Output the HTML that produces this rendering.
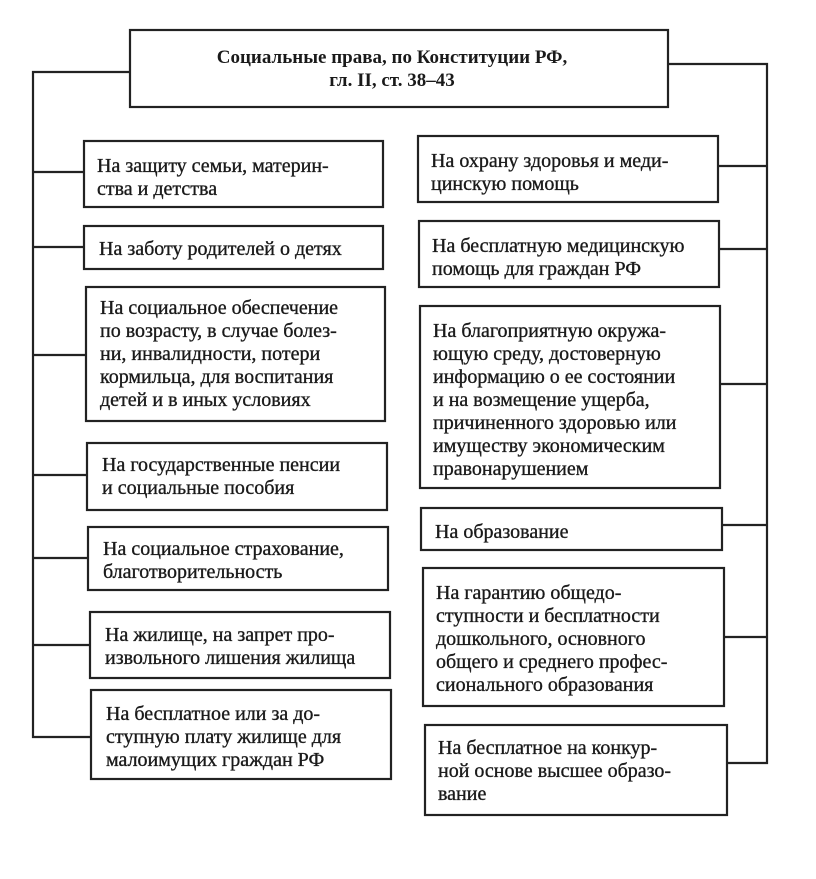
<!DOCTYPE html>
<html><head><meta charset="utf-8"><style>
html,body{margin:0;padding:0;background:#fff;}
svg{display:block;}
text{font-family:"Liberation Serif",serif;font-size:20px;fill:#1a1a1a;stroke:#1a1a1a;stroke-width:0.35;}
.t{font-weight:bold;font-size:19px;stroke-width:0;}
</style></head><body>
<svg width="816" height="879" viewBox="0 0 816 879" xmlns="http://www.w3.org/2000/svg">
<g fill="none" stroke="#222" stroke-width="2.2">
<rect x="130" y="30" width="538" height="77"/>
<polyline points="130,72 33,72 33,737 90,737"/>
<line x1="33" y1="172" x2="84" y2="172"/>
<line x1="33" y1="247" x2="84" y2="247"/>
<line x1="33" y1="355" x2="86" y2="355"/>
<line x1="33" y1="475" x2="87" y2="475"/>
<line x1="33" y1="558" x2="88" y2="558"/>
<line x1="33" y1="645" x2="90" y2="645"/>
<polyline points="668,64 767,64 767,763 727,763"/>
<line x1="718" y1="166" x2="767" y2="166"/>
<line x1="719" y1="249" x2="767" y2="249"/>
<line x1="720" y1="384" x2="767" y2="384"/>
<line x1="721" y1="525" x2="767" y2="525"/>
<line x1="723" y1="637" x2="767" y2="637"/>
<rect x="84" y="141" width="299" height="66"/>
<rect x="84" y="226" width="299" height="43"/>
<rect x="86" y="287" width="299" height="134"/>
<rect x="87" y="443" width="300" height="67"/>
<rect x="88" y="527" width="300" height="63"/>
<rect x="90" y="612" width="300" height="66"/>
<rect x="91" y="690" width="300" height="89"/>
<rect x="418" y="136" width="300" height="66"/>
<rect x="419" y="221" width="300" height="66"/>
<rect x="420" y="306" width="300" height="182"/>
<rect x="421" y="508" width="301" height="42"/>
<rect x="423" y="568" width="301" height="138"/>
<rect x="425" y="725" width="302" height="90"/>
</g>
<text class="t" x="392" y="63" text-anchor="middle">Социальные права, по Конституции РФ,</text>
<text class="t" x="392" y="86" text-anchor="middle">гл. II, ст. 38–43</text>

<text x="97" y="172">На защиту семьи, материн-</text>
<text x="97" y="195">ства и детства</text>
<text x="99" y="255">На заботу родителей о детях</text>
<text x="100" y="314">На социальное обеспечение</text>
<text x="100" y="337">по возрасту, в случае болез-</text>
<text x="100" y="360">ни, инвалидности, потери</text>
<text x="100" y="383">кормильца, для воспитания</text>
<text x="100" y="406">детей и в иных условиях</text>
<text x="102" y="471">На государственные пенсии</text>
<text x="102" y="494">и социальные пособия</text>
<text x="103" y="555">На социальное страхование,</text>
<text x="103" y="578">благотворительность</text>
<text x="105" y="641">На жилище, на запрет про-</text>
<text x="105" y="664">извольного лишения жилища</text>
<text x="106" y="720">На бесплатное или за до-</text>
<text x="106" y="743">ступную плату жилище для</text>
<text x="106" y="766">малоимущих граждан РФ</text>

<text x="431" y="167">На охрану здоровья и меди-</text>
<text x="431" y="190">цинскую помощь</text>
<text x="432" y="252">На бесплатную медицинскую</text>
<text x="432" y="275">помощь для граждан РФ</text>
<text x="433" y="337">На благоприятную окружа-</text>
<text x="433" y="360">ющую среду, достоверную</text>
<text x="433" y="383">информацию о ее состоянии</text>
<text x="433" y="406">и на возмещение ущерба,</text>
<text x="433" y="429">причиненного здоровью или</text>
<text x="433" y="452">имуществу экономическим</text>
<text x="433" y="475">правонарушением</text>
<text x="435" y="538">На образование</text>
<text x="436" y="599">На гарантию общедо-</text>
<text x="436" y="622">ступности и бесплатности</text>
<text x="436" y="645">дошкольного, основного</text>
<text x="436" y="668">общего и среднего профес-</text>
<text x="436" y="691">сионального образования</text>
<text x="438" y="754">На бесплатное на конкур-</text>
<text x="438" y="777">ной основе высшее образо-</text>
<text x="438" y="800">вание</text>
</svg>
</body></html>
